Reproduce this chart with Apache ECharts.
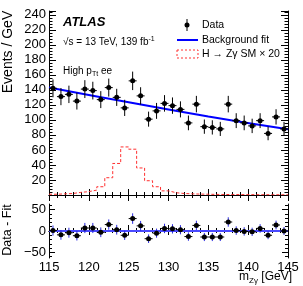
<!DOCTYPE html>
<html><head><meta charset="utf-8">
<script src="https://cdn.jsdelivr.net/npm/echarts@6/dist/echarts.min.js"></script>
<style>html,body{margin:0;padding:0;background:#fff}#c{width:303px;height:286px}</style>
</head><body><div id="c"></div>
<script>
// ---- data ----
const massBins = [115.5,116.5,117.5,118.5,119.5,120.5,121.5,122.5,123.5,124.5,125.5,126.5,127.5,128.5,129.5,130.5,131.5,132.5,133.5,134.5,135.5,136.5,137.5,138.5,139.5,140.5,141.5,142.5,143.5,144.5];
const dataEvents = [142,131,134,125,141,139,127,143,130,116,152,132,101,112,122,119,114,96,121,91,90,88,121,99,96,92,99,82,104,88];
const dataErrors = [11.9,11.4,11.6,11.2,11.9,11.8,11.3,12,11.4,10.8,12.3,11.5,10,10.6,11,10.9,10.7,9.8,11,9.5,9.5,9.4,11,9.9,9.8,9.6,9.9,9.1,10.2,9.4];
const fitMass = [115,125,135,145];
const fitEvents = [143,123.5,104.5,87.5];
const signalEdges = [115,116,117,118,119,120,121,122,123,124,125,126,127,128,129,130,131,132,133,134,135,136,137,138,139,140,141,142,143,144,145];
const signalEvents = [1,1.5,2,3.5,4.5,6.5,11,23,42,64,61,36,19,11,5.5,3,2,1.5,1.2,1,0.8,0.7,0.6,0.5,0.5,0.4,0.4,0.3,0.3,0.3];
const residuals = [1,-9,-4,-11,7,7,-3,15,3,-10,29,12,-18,-5,6,5,3,-13,13,-14,-14,-14,21,1,-1,-2,6,-10,14,0];
const residualErrors = [11.9,11.4,11.6,11.2,11.9,11.8,11.3,12,11.4,10.8,12.3,11.5,10,10.6,11,10.9,10.7,9.8,11,9.5,9.5,9.4,11,9.9,9.8,9.6,9.9,9.1,10.2,9.4];
const xTickLabels = [115,120,125,130,135,140,145];
const topTickLabels = [20,40,60,80,100,120,140,160,180,200,220,240];
const residualTickLabels = [-50,0,50];
const residualMinorTicks = [-60,-50,-40,-30,-20,-10,0,10,20,30,40,50,60];

const FONT = 'Liberation Sans, Arial, Helvetica, sans-serif';
const chart = echarts.init(document.getElementById('c'), null, {renderer:'canvas'});

function errRender(vColor, hColor){
  return function(params, api){
    const x = api.value(0), y = api.value(1), e = api.value(2);
    const c = api.coord([x,y]);
    const lo = api.coord([x,y-e]), hi = api.coord([x,y+e]);
    const l = api.coord([x-0.5,y]), r = api.coord([x+0.5,y]);
    return {type:'group', children:[
      {type:'line', shape:{x1:c[0],y1:lo[1],x2:c[0],y2:hi[1]}, style:{stroke:vColor,lineWidth:1}},
      {type:'line', shape:{x1:l[0],y1:c[1],x2:r[0],y2:c[1]}, style:{stroke:hColor,lineWidth:1}},
      {type:'circle', shape:{cx:c[0],cy:c[1],r:2.5}, style:{fill:'#000'}}
    ]};
  };
}

const stepPts = [];
for (let i=0;i<signalEvents.length;i++){
  stepPts.push([signalEdges[i], signalEvents[i]]);
  stepPts.push([signalEdges[i+1], signalEvents[i]]);
}

const axLine = {show:true, lineStyle:{color:'#000', width:1}};
function xAx(grid, pos, labels, majorLen, minorLen){
  return {type:'value', gridIndex:grid, position:pos, min:115, max:145, interval:5,
    axisLine:axLine, splitLine:{show:false},
    axisTick:{show:true, inside:true, length:majorLen, lineStyle:{color:'#000'}},
    minorTick:{show:true, splitNumber:5, length:minorLen, lineStyle:{color:'#000'}},
    axisLabel:{show:labels, color:'#000', fontFamily:FONT, fontSize:13, margin:3,
      formatter: v => xTickLabels.includes(v) ? String(v) : ''}};
}
function yTop(pos, labels){
  return {type:'value', gridIndex:0, position:pos, min:0, max:245, interval:20,
    axisLine:axLine, splitLine:{show:false},
    axisTick:{show:true, inside:true, length:7, lineStyle:{color:'#000'}},
    minorTick:{show:true, splitNumber:5, length:3.5, lineStyle:{color:'#000'}},
    axisLabel:{show:labels, color:'#000', fontFamily:FONT, fontSize:13, margin:3,
      formatter: v => topTickLabels.includes(v) ? String(v) : ''}};
}
function yBot(pos, labels, ticks, len, line){
  return {type:'value', gridIndex:1, position:pos, min:-63, max:63,
    axisLine: line ? axLine : {show:false}, splitLine:{show:false},
    axisTick:{show:true, inside:true, length:len, customValues:ticks, lineStyle:{color:'#000'}},
    axisLabel:{show:labels, customValues:residualTickLabels, color:'#000', fontFamily:FONT, fontSize:13, margin:3,
      formatter: v => (v<0 ? '\u2212'+Math.abs(v) : String(v))}};
}

chart.setOption({
  animation:false,
  backgroundColor:'#fff',
  grid:[
    {left:49, top:11, width:239, height:184},
    {left:49, top:204, width:239, height:54}
  ],
  xAxis:[xAx(0,'bottom',false,6,3), xAx(0,'top',false,6,3), xAx(1,'bottom',true,6,3), xAx(1,'top',false,4,2)],
  yAxis:[yTop('left',true), yTop('right',false),
    yBot('left',true,residualTickLabels,6,true), yBot('right',false,residualTickLabels,6,true),
    yBot('left',false,residualMinorTicks,3,false), yBot('right',false,residualMinorTicks,3,false)],
  series:[
    {type:'line', xAxisIndex:0, yAxisIndex:0, data:stepPts, showSymbol:false, symbol:'none',
      lineStyle:{color:'#ff3030', width:1, type:[3,2]}, z:2},
    {type:'line', xAxisIndex:0, yAxisIndex:0, data:fitMass.map((m,i)=>[m,fitEvents[i]]), showSymbol:false, symbol:'none',
      smooth:0.3, lineStyle:{color:'#0000ff', width:2}, z:3},
    {type:'custom', xAxisIndex:0, yAxisIndex:0, renderItem:errRender('#000','#000'),
      data:massBins.map((m,i)=>[m,dataEvents[i],dataErrors[i]]), z:4, clip:false},
    {type:'line', xAxisIndex:2, yAxisIndex:2, data:[[115,0],[145,0]], showSymbol:false, symbol:'none',
      lineStyle:{color:'#4a4aff', width:2}, z:2},
    {type:'custom', xAxisIndex:2, yAxisIndex:2, renderItem:errRender('#2a2ae0','#000'),
      data:massBins.map((m,i)=>[m,residuals[i],residualErrors[i]]), z:4, clip:false}
  ],
  graphic:[
    {type:'text', left:63, top:16, style:{text:'ATLAS', font:'italic bold 13px '+FONT, fill:'#000'}},
    {type:'text', left:63, top:36, style:{text:'\u221As = 13 TeV, 139 fb{sup|-1}', font:'10px '+FONT, fill:'#000',
      rich:{sup:{fontSize:7, verticalAlign:'top', padding:[0,0,6,0], fontFamily:FONT}}}},
    {type:'text', left:63, top:66, style:{text:'High p{sub|Tt} ee', font:'10px '+FONT, fill:'#000',
      rich:{sub:{fontSize:7, padding:[7,0,0,0], fontFamily:FONT}}}},
    // legend
    {type:'line', shape:{x1:187,y1:19,x2:187,y2:31}, style:{stroke:'#000',lineWidth:1}},
    {type:'circle', shape:{cx:187,cy:25,r:2.5}, style:{fill:'#000'}},
    {type:'text', x:202, y:25, style:{text:'Data', font:'10.5px '+FONT, fill:'#000', textVerticalAlign:'middle'}},
    {type:'line', shape:{x1:177,y1:40,x2:198,y2:40}, style:{stroke:'#0000ff',lineWidth:2}},
    {type:'text', x:202, y:40, style:{text:'Background fit', font:'10.5px '+FONT, fill:'#000', textVerticalAlign:'middle'}},
    {type:'rect', shape:{x:177,y:50,width:21,height:8}, style:{fill:'none', stroke:'#ff3030', lineWidth:1, lineDash:[2,2]}},
    {type:'text', x:202, y:54, style:{text:'H \u2192 Z\u03B3 SM \u00D7 20', font:'10.5px '+FONT, fill:'#000', textVerticalAlign:'middle'}},
    // axis titles
    {type:'text', x:8, y:52, rotation:Math.PI/2, style:{text:'Events / GeV', font:'14px '+FONT, fill:'#000', textAlign:'center', textVerticalAlign:'middle'}},
    {type:'text', x:8, y:230, rotation:Math.PI/2, style:{text:'Data - Fit', font:'12.5px '+FONT, fill:'#000', textAlign:'center', textVerticalAlign:'middle'}},
    {type:'text', x:292, y:277, style:{text:'m{sub|Z\u03B3} [GeV]', font:'12px '+FONT, fill:'#000', textAlign:'right', textVerticalAlign:'middle',
      rich:{sub:{fontSize:8, padding:[8,0,0,0], fontFamily:FONT}}}}
  ]
});
</script></body></html>
